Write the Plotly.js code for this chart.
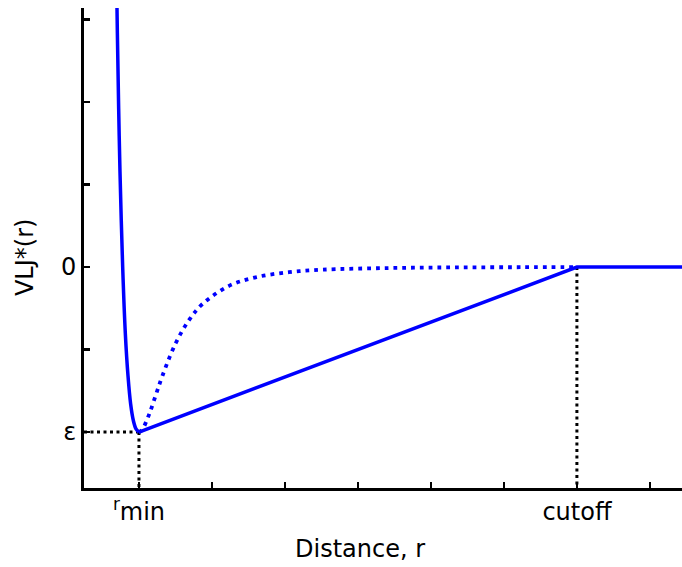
<!DOCTYPE html>
<html>
<head>
<meta charset="utf-8">
<script src="https://cdn.plot.ly/plotly-3.0.1.min.js"></script>
<style>
  html, body { margin: 0; padding: 0; overflow: hidden; background: #fff; }
  #chart { width: 682px; height: 567px; }
</style>
</head>
<body>
<div id="chart"></div>
<script>
// Positions on the distance axis (tick units) and potential values (units of epsilon)
const rMin = 1;
const rCut = 7;
const epsilon = -1;

// Steep repulsive wall of the Lennard-Jones potential, up to the minimum
const wallR = [0.686, 0.704, 0.722, 0.740, 0.777, 0.813, 0.850, 0.886, 0.923, 0.959, 1.0];
const wallV = [1.96, 1.42, 0.96, 0.58, 0.0, -0.40, -0.66, -0.83, -0.93, -0.98, -1.0];

// Original attractive tail (dotted), from the minimum out to the cutoff
const tailR = [1.0, 1.014, 1.05, 1.141, 1.232, 1.323, 1.505, 1.688, 1.870, 2.234, 2.599, 3.054, 3.510, 4.421, 5.332, 6.243, 7.0];
const tailV = [-1.0, -0.998, -0.982, -0.891, -0.774, -0.657, -0.460, -0.320, -0.224, -0.114, -0.062, -0.031, -0.016, -0.006, -0.002, -0.001, 0.0];

// Modified potential: linear ramp from the minimum to the cutoff, then flat zero
const rampR = [rMin, rCut, 8.6];
const rampV = [epsilon, 0, 0];

// Axis ticks
const xTickVals = [1, 2, 3, 4, 5, 6, 7, 8];
const xTickText = ['<sup>r</sup>min', '', '', '', '', '', 'cutoff', ''];
const yTickVals = [-1, -0.5, 0, 0.5, 1, 1.5];
const yTickText = ['\u03b5', '', '0', '', '', ''];

const xRange = [0.247, 8.44];
const yRange = [-1.339, 1.57];

const blue = '#0000ff';
const guide = { color: '#000', width: 3, dash: '3px,3.5px' };

const traces = [
  // guide lines marking epsilon, r_min and the cutoff
  { x: [xRange[0], rMin], y: [epsilon, epsilon], mode: 'lines', line: guide, hoverinfo: 'skip' },
  { x: [rMin, rMin], y: [epsilon, yRange[0]], mode: 'lines', line: guide, hoverinfo: 'skip' },
  { x: [rCut, rCut], y: [0, yRange[0]], mode: 'lines', line: guide, hoverinfo: 'skip' },
  // curves
  { x: tailR, y: tailV, mode: 'lines', line: { color: blue, width: 3.8, dash: '3.8px,5px', shape: 'spline' } },
  { x: wallR, y: wallV, mode: 'lines', line: { color: blue, width: 3.5, shape: 'spline' } },
  { x: rampR, y: rampV, mode: 'lines', line: { color: blue, width: 3.5 } }
];

const font = { family: 'DejaVu Sans, sans-serif', size: 24, color: '#000' };

const layout = {
  width: 682,
  height: 567,
  margin: { l: 84, r: 0, t: 8, b: 79 },
  paper_bgcolor: '#fff',
  plot_bgcolor: '#fff',
  showlegend: false,
  font: font,
  xaxis: {
    range: xRange,
    showgrid: false,
    zeroline: false,
    showline: true,
    linecolor: '#000',
    linewidth: 3,
    ticks: 'inside',
    ticklen: 6,
    tickwidth: 2.5,
    tickcolor: '#000',
    tickvals: xTickVals,
    ticktext: xTickText,
    tickfont: font,
    fixedrange: true
  },
  yaxis: {
    range: yRange,
    showgrid: false,
    zeroline: false,
    showline: true,
    linecolor: '#000',
    linewidth: 3,
    ticks: 'inside',
    ticklen: 6,
    tickwidth: 2.5,
    tickcolor: '#000',
    tickvals: yTickVals,
    ticktext: yTickText,
    tickfont: font,
    fixedrange: true
  },
  annotations: [
    { text: 'Distance, r', xref: 'paper', yref: 'paper', x: 0.4615, y: -0.127,
      xanchor: 'center', yanchor: 'middle', showarrow: false, font: font },
    { text: 'VLJ*(r)', xref: 'paper', yref: 'paper', x: -0.0987, y: 0.481,
      xanchor: 'center', yanchor: 'middle', textangle: -90, showarrow: false, font: font }
  ]
};

Plotly.newPlot('chart', traces, layout, { displayModeBar: false, staticPlot: true });
</script>
</body>
</html>
